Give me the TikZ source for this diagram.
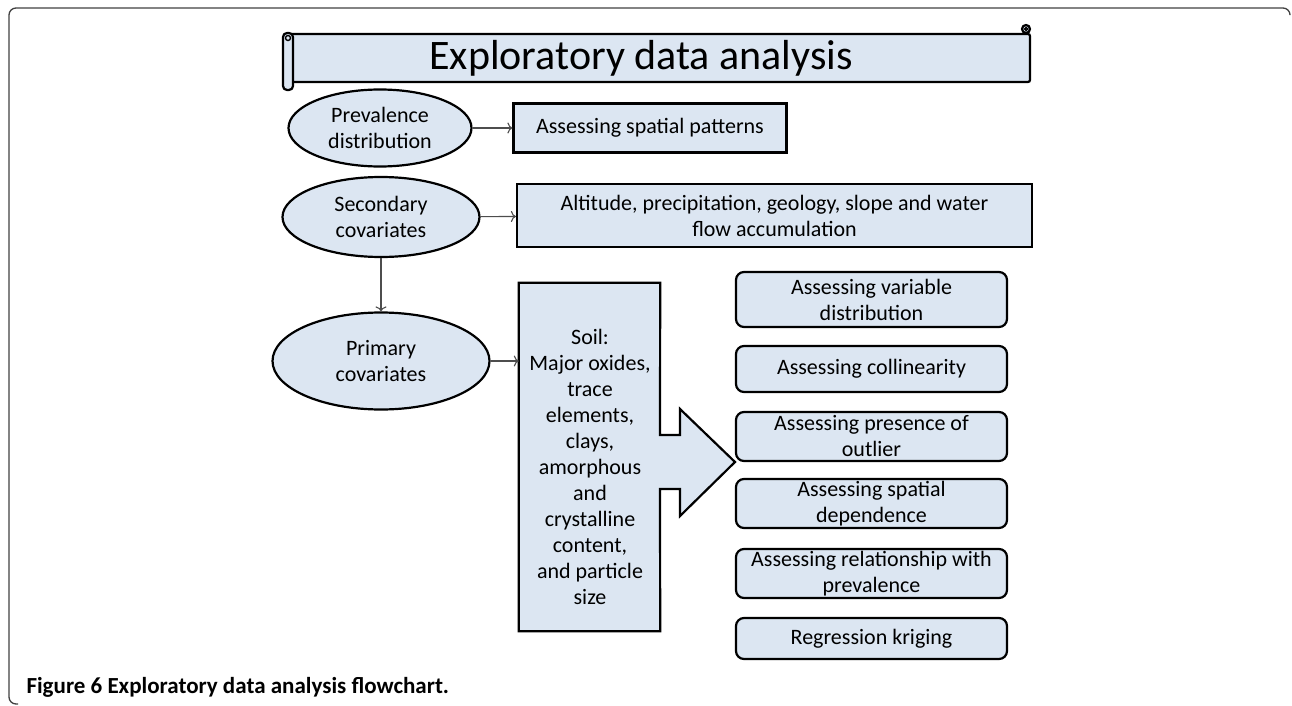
\documentclass[tikz,border=0pt]{standalone}
\usepackage{fontspec}
\setmainfont{Carlito}
\usetikzlibrary{shapes.geometric,positioning,arrows.meta}

\definecolor{paleblue}{HTML}{DCE6F2}
\definecolor{wiregray}{HTML}{4D4D4D}

\tikzset{
  ell/.style={ellipse, draw, line width=2.2pt, fill=paleblue, inner sep=0pt,
    align=center, font=\fontsize{22}{26}\selectfont},
  box/.style={rectangle, draw, line width=2.2pt, fill=paleblue, inner sep=0pt,
    align=center, font=\fontsize{22}{26}\selectfont},
  rbox/.style={box, rounded corners=8pt, minimum width=271pt},
  wire/.style={-{To[length=5pt, width=11pt]}, draw=wiregray, line width=1.1pt}
}

\begin{document}
\begin{tikzpicture}[x=1pt, y=-1pt, node distance=270pt, on grid]
  \useasboundingbox (0,0) rectangle (1292,706);

  % outer frame
  \draw[line width=1.3pt, draw=black!75, rounded corners=7pt]
    (1290,14) -- (1290,8) -- (9,8) -- (9,704) -- (18,704);

  % title scroll
  \draw[line width=2.2pt, fill=paleblue, rounded corners=2pt]
    (288,34) -- (1030,34) -- (1030,82) -- (288,82) -- cycle;
  \draw[line width=2.2pt, fill=paleblue, rounded corners=4pt]
    (283,33) rectangle (293,90);
  \draw[line width=1.4pt] (288,38) circle (2.5);
  \draw[line width=2.2pt, fill=paleblue] (1026,29) circle (4);
  \draw[line width=1.4pt] (1026,29) circle (1.5);
  \node (title) at (641,58) {\fontsize{42}{46}\selectfont Exploratory data analysis};

  % left column
  \node[ell, minimum width=183pt, minimum height=77pt] (prev) at (380,128)
    {Prevalence\\distribution};
  \node[ell, minimum width=197pt, minimum height=80pt] (sec) at (381,217)
    {Secondary\\covariates};
  \node[ell, minimum width=217pt, minimum height=97pt] (prim) [below=144pt of sec]
    {Primary\\covariates};

  \node[box, minimum width=273pt, minimum height=49pt] (spat) [right=of prev]
    {Assessing spatial patterns};
  \node[box, minimum width=515pt, minimum height=63pt] (alt) at (774.5,215.5)
    {Altitude, precipitation, geology, slope and water\\flow accumulation};

  % soil block arrow
  \node[minimum width=141pt, minimum height=348pt, inner sep=0pt] (soilbox) at (589.5,457) {};
  \draw[line width=2.2pt, fill=paleblue]
    (soilbox.north west) -- (soilbox.north east) -- (660,435) -- (680,435)
    -- (680,409) -- (735,462) -- (680,516) -- (680,489) -- (660,489)
    -- (soilbox.south east) -- (soilbox.south west) -- cycle;
  \node[align=center, font=\fontsize{22}{26}\selectfont] (soil) at (590,467)
    {Soil:\\Major oxides,\\trace\\elements,\\clays,\\amorphous\\and\\crystalline\\content,\\and particle\\size};

  % right column
  \foreach \nm/\yy/\hh/\txt in {
      var/299.5/55/{Assessing variable\\distribution},
      col/369/46/{Assessing collinearity},
      out/436.5/49/{Assessing presence of\\outlier},
      dep/503.5/49/{Assessing spatial\\dependence},
      rel/573.5/49/{Assessing relationship with\\prevalence},
      krig/638.5/41/{Regression kriging}}
    \node[rbox, minimum height=\hh pt] (\nm) at (871.5,\yy) {\txt};

  \path[wire]
    (prev) edge (spat)
    (sec)  edge (alt)
    (sec)  edge (prim)
    (prim) edge (prim -| soilbox.west);

  % caption
  \node[anchor=west, font=\fontsize{23}{26}\selectfont\bfseries] (cap) at (23,687)
    {Figure 6 Exploratory data analysis flowchart.};
\end{tikzpicture}
\end{document}
